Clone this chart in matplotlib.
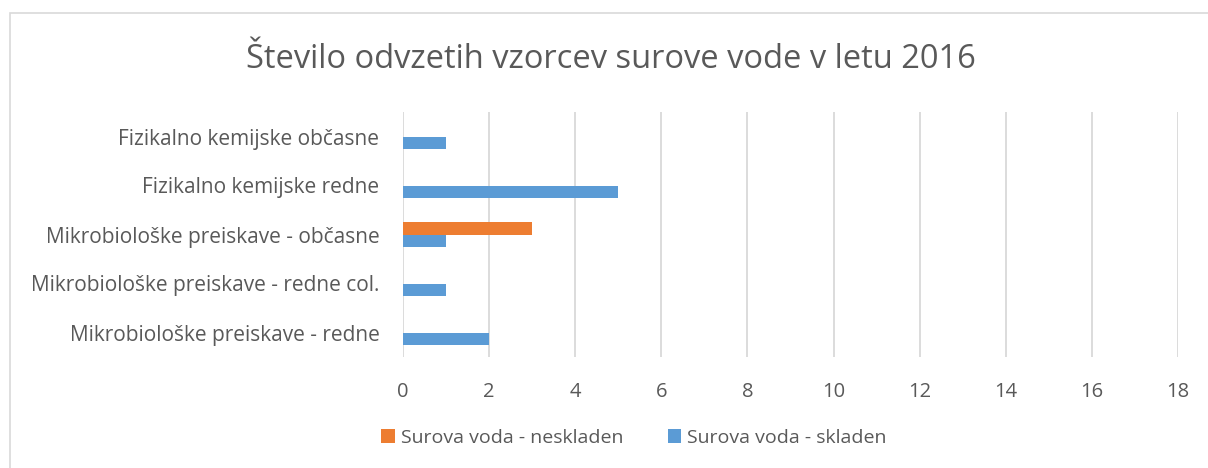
import matplotlib.pyplot as plt
import numpy as np
from matplotlib.patches import Rectangle

plt.rcParams['font.family'] = ['Open Sans', 'DejaVu Sans']

# data (bottom to top)
categories = ["Mikrobiološke preiskave - redne",
              "Mikrobiološke preiskave - redne col.",
              "Mikrobiološke preiskave - občasne",
              "Fizikalno kemijske redne",
              "Fizikalno kemijske občasne"]
neskladen = [0, 0, 3, 0, 0]
skladen = [2, 1, 1, 5, 1]
ticks = [0, 2, 4, 6, 8, 10, 12, 14, 16, 18]

grey = '#595959'
fig = plt.figure(figsize=(12.08, 4.68), dpi=100)
fig.patches.append(Rectangle((10 / 1208, -0.01), 1.1, (468 - 13) / 468 + 0.01,
                             transform=fig.transFigure, fill=False,
                             edgecolor='#d9d9d9', linewidth=1.2))
ax = fig.add_axes([403 / 1208, (468 - 357) / 468, 775 / 1208, 245 / 468])

y = np.arange(len(categories))
h = 0.265
ax.barh(y + h / 2, neskladen, height=h, color='#ed7d31', label='Surova voda - neskladen')
ax.barh(y - h / 2, skladen, height=h, color='#5b9bd5', label='Surova voda - skladen')

ax.set_xlim(0, 18)
ax.set_ylim(-0.5, len(categories) - 0.5)
ax.set_xticks(ticks)
ax.set_yticks(y)
ax.set_yticklabels(categories)
ax.tick_params(axis='y', length=0, colors=grey, labelsize=15, pad=17)
ax.tick_params(axis='x', length=0, colors=grey, labelsize=14.5, pad=18)
ax.grid(axis='x', color='#d9d9d9', linewidth=1.3)
ax.set_axisbelow(True)
for s in ax.spines.values():
    s.set_visible(False)

fig.text(611 / 1208, 1 - 60 / 468, "Število odvzetih vzorcev surove vode v letu 2016",
         ha='center', va='center', fontsize=23.5, color=grey)

fig.legend(loc='center', bbox_to_anchor=(634 / 1208, 1 - 438 / 468), ncol=2,
           frameon=False, fontsize=14, labelcolor=grey, handlelength=0.7,
           handleheight=0.7, handletextpad=0.3, columnspacing=2.3)

fig.savefig('out.png', dpi=100)
